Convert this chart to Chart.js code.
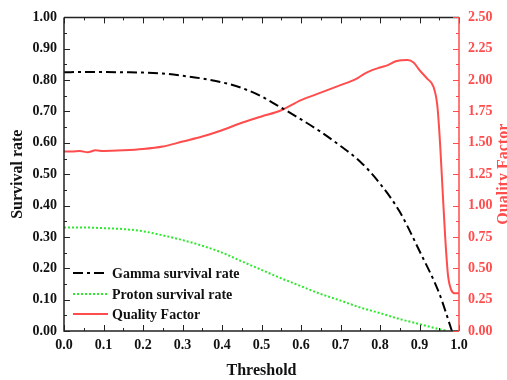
<!DOCTYPE html>
<html>
<head>
<meta charset="utf-8">
<script src="https://cdn.jsdelivr.net/npm/chart.js@4"></script>
<style>
  html, body { margin: 0; padding: 0; background: #fff; }
  #wrap { width: 507px; height: 380px; }
</style>
</head>
<body>
<div id="wrap"><canvas id="myChart" width="507" height="380"></canvas></div>
<script>
// Gamma survival rate (left axis)
const gammaX = [0, 0.05, 0.1, 0.15, 0.2, 0.25, 0.3, 0.35, 0.4, 0.45, 0.5, 0.55, 0.6, 0.65, 0.7, 0.75, 0.8, 0.85, 0.9, 0.95, 0.982];
const gammaY = [0.825, 0.826, 0.826, 0.825, 0.824, 0.821, 0.814, 0.805, 0.793, 0.775, 0.748, 0.712, 0.675, 0.635, 0.59, 0.54, 0.47, 0.38, 0.255, 0.12, 0.0];

// Proton survival rate (left axis)
const protonX = [0, 0.05, 0.1, 0.15, 0.2, 0.25, 0.3, 0.35, 0.4, 0.45, 0.5, 0.55, 0.6, 0.65, 0.7, 0.75, 0.8, 0.85, 0.9, 0.93, 0.96, 0.97];
const protonY = [0.330, 0.330, 0.328, 0.325, 0.318, 0.305, 0.290, 0.272, 0.250, 0.222, 0.195, 0.168, 0.143, 0.118, 0.097, 0.075, 0.057, 0.038, 0.022, 0.012, 0.003, 0.0];

// Quality factor (right axis)
const qualityX = [0, 0.02, 0.04, 0.06, 0.08, 0.1, 0.15, 0.2, 0.25, 0.3, 0.35, 0.4, 0.45, 0.5, 0.55, 0.6, 0.65, 0.7, 0.74, 0.76, 0.78, 0.8, 0.82, 0.84, 0.87, 0.885, 0.9, 0.92, 0.935, 0.945, 0.952, 0.958, 0.965, 0.972, 0.98, 0.99, 1.0];
const qualityY = [1.43, 1.43, 1.435, 1.425, 1.44, 1.435, 1.44, 1.45, 1.47, 1.51, 1.55, 1.60, 1.66, 1.71, 1.76, 1.84, 1.90, 1.96, 2.01, 2.05, 2.08, 2.10, 2.12, 2.15, 2.16, 2.14, 2.08, 2.01, 1.95, 1.80, 1.50, 1.15, 0.75, 0.45, 0.33, 0.30, 0.30];

const RED = '#ff4d4d';
const GREEN = '#2ee82e';
const SERIF = '"Liberation Serif", "DejaVu Serif", serif';

function pts(xs, ys) {
    return xs.map((x, i) => ({ x: x, y: ys[i] }));
}

// draws frame, inward ticks, axis titles and legend
const framePlugin = {
    id: 'frame',
    afterDraw(chart) {
        const ctx = chart.ctx;
        const a = chart.chartArea;
        const xs = chart.scales.x, ys = chart.scales.y, y1 = chart.scales.y1;
        ctx.save();
        ctx.lineWidth = 1.5;
        ctx.strokeStyle = '#222';
        ctx.beginPath();
        ctx.moveTo(a.left, a.top); ctx.lineTo(a.right, a.top);
        ctx.moveTo(a.left, a.top); ctx.lineTo(a.left, a.bottom); ctx.lineTo(a.right, a.bottom);
        ctx.stroke();
        ctx.lineWidth = 1;
        // x ticks bottom and top
        for (let i = 0; i <= 20; i++) {
            const px = Math.round(xs.getPixelForValue(i * 0.05)) + 0.5;
            const len = i % 2 === 0 ? 6 : 3;
            ctx.beginPath();
            ctx.moveTo(px, a.bottom); ctx.lineTo(px, a.bottom - len);
            ctx.moveTo(px, a.top); ctx.lineTo(px, a.top + len);
            ctx.stroke();
        }
        // left ticks
        for (let i = 0; i <= 20; i++) {
            const py = Math.round(ys.getPixelForValue(i * 0.05)) + 0.5;
            const len = i % 2 === 0 ? 6 : 3;
            ctx.beginPath();
            ctx.moveTo(a.left, py); ctx.lineTo(a.left + len, py);
            ctx.stroke();
        }
        // right axis in red
        ctx.strokeStyle = RED;
        ctx.lineWidth = 1.5;
        ctx.beginPath();
        ctx.moveTo(a.right, a.top); ctx.lineTo(a.right, a.bottom);
        ctx.stroke();
        ctx.lineWidth = 1;
        for (let i = 0; i <= 20; i++) {
            const py = Math.round(y1.getPixelForValue(i * 0.125)) + 0.5;
            const len = i % 2 === 0 ? 6 : 3;
            ctx.beginPath();
            ctx.moveTo(a.right, py); ctx.lineTo(a.right - len, py);
            ctx.stroke();
        }

        // axis titles
        ctx.font = 'bold 16px ' + SERIF;
        ctx.textAlign = 'center';
        ctx.textBaseline = 'middle';
        ctx.fillStyle = '#111';
        ctx.fillText('Threshold', (a.left + a.right) / 2, 371);
        ctx.save();
        ctx.translate(18, (a.top + a.bottom) / 2);
        ctx.rotate(-Math.PI / 2);
        ctx.fillText('Survival rate', 0, 0);
        ctx.restore();
        ctx.save();
        ctx.fillStyle = RED;
        ctx.translate(504, (a.top + a.bottom) / 2);
        ctx.rotate(-Math.PI / 2);
        ctx.fillText('Quality Factor', 0, 0);
        ctx.restore();

        // legend
        ctx.font = 'bold 14px ' + SERIF;
        ctx.textAlign = 'left';
        const rows = [273, 294, 314];
        chart.data.datasets.forEach((ds, i) => {
            ctx.save();
            ctx.strokeStyle = ds.borderColor;
            ctx.lineWidth = ds.borderWidth;
            ctx.setLineDash(ds.borderDash || []);
            ctx.beginPath();
            ctx.moveTo(73, rows[i]); ctx.lineTo(108, rows[i]);
            ctx.stroke();
            ctx.restore();
            ctx.fillStyle = '#111';
            ctx.fillText(ds.label, 112, rows[i] + 1);
        });
        ctx.restore();
    }
};

const tickFont = { family: SERIF, size: 14, weight: 'bold' };

const config = {
    type: 'line',
    data: {
        datasets: [
            {
                label: 'Gamma survival rate',
                data: pts(gammaX, gammaY),
                borderColor: '#000',
                borderWidth: 2,
                borderDash: [10, 4, 3, 4],
                pointRadius: 0,
                cubicInterpolationMode: 'monotone',
                yAxisID: 'y'
            },
            {
                label: 'Proton survival rate',
                data: pts(protonX, protonY),
                borderColor: GREEN,
                borderWidth: 2,
                borderDash: [2, 2],
                pointRadius: 0,
                cubicInterpolationMode: 'monotone',
                yAxisID: 'y'
            },
            {
                label: 'Quality Factor',
                data: pts(qualityX, qualityY),
                borderColor: RED,
                borderWidth: 2,
                pointRadius: 0,
                cubicInterpolationMode: 'monotone',
                yAxisID: 'y1'
            }
        ]
    },
    options: {
        responsive: false,
        animation: false,
        layout: { padding: { top: 13, left: 0, right: 0, bottom: 0 } },
        plugins: {
            legend: { display: false },
            tooltip: { enabled: false }
        },
        scales: {
            x: {
                type: 'linear',
                min: 0, max: 1,
                grid: { display: false, drawTicks: false },
                border: { display: false },
                ticks: {
                    stepSize: 0.1,
                    padding: 6,
                    color: '#111',
                    font: tickFont,
                    callback: v => v.toFixed(1)
                },
                afterFit(s) { s.height = 49; }
            },
            y: {
                position: 'left',
                min: 0, max: 1,
                grid: { display: false, drawTicks: false },
                border: { display: false },
                ticks: {
                    stepSize: 0.1,
                    padding: 7,
                    color: '#111',
                    font: tickFont,
                    callback: v => v.toFixed(2)
                },
                afterFit(s) { s.width = 64; }
            },
            y1: {
                position: 'right',
                min: 0, max: 2.5,
                grid: { display: false, drawTicks: false },
                border: { display: false },
                ticks: {
                    stepSize: 0.25,
                    padding: 9,
                    color: RED,
                    font: tickFont,
                    callback: v => v.toFixed(2)
                },
                afterFit(s) { s.width = 48; }
            }
        }
    },
    plugins: [framePlugin]
};

const myChart = new Chart(document.getElementById('myChart'), config);
</script>
</body>
</html>
